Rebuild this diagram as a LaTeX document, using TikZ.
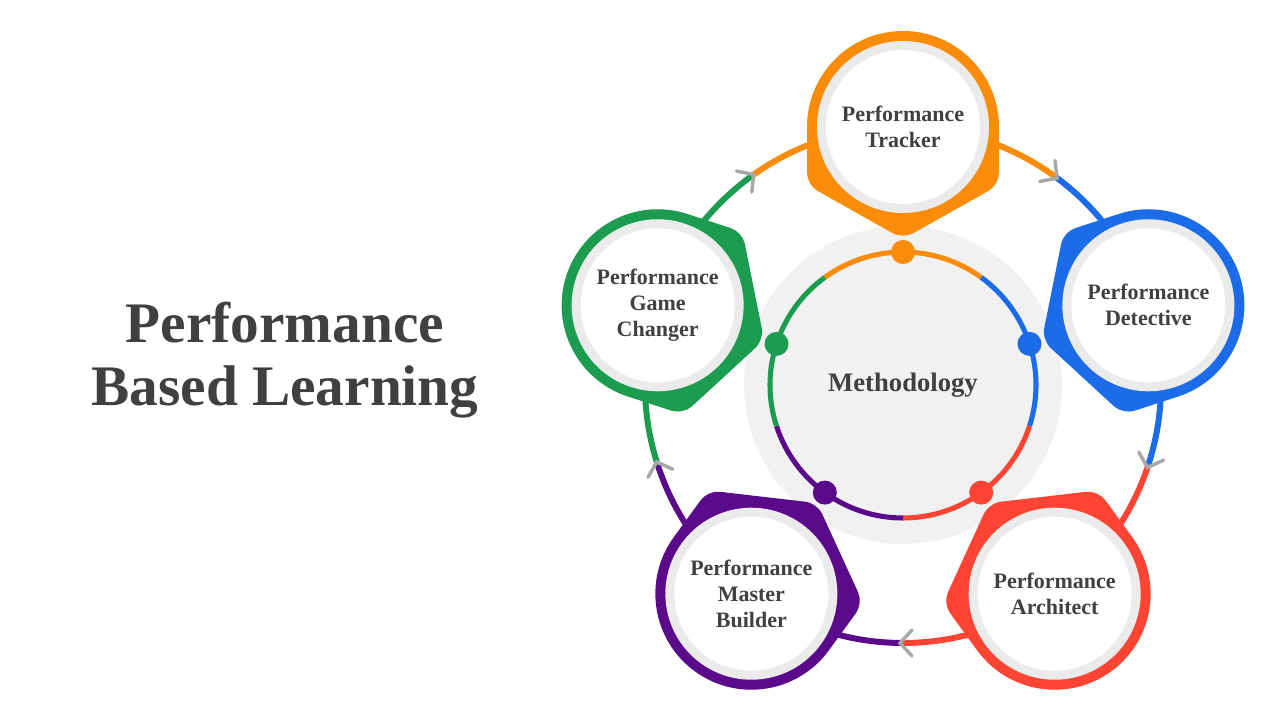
\documentclass[tikz,border=0pt]{standalone}
\usepackage{fontspec}
\usetikzlibrary{calc}
\setmainfont{Liberation Serif}
\definecolor{cO}{HTML}{FA8C0A}
\definecolor{cB}{HTML}{1C6BE8}
\definecolor{cR}{HTML}{FF4433}
\definecolor{cP}{HTML}{5A0A8A}
\definecolor{cG}{HTML}{1B9C50}
\definecolor{tx}{HTML}{404040}
\definecolor{bg}{HTML}{F1F1F1}
\definecolor{rg}{HTML}{EBEBEB}
\definecolor{chev}{HTML}{A8A8A8}
\tikzset{lbl/.style={align=center,font=\bfseries\fontsize{16.5}{19.5}\selectfont,text=tx},
 chevr/.style={draw=chev,line width=2.6pt,line cap=round,line join=miter}}
\begin{document}
\begin{tikzpicture}[x=0.75pt,y=0.75pt]
\useasboundingbox (0,0) rectangle (1280,720);
\coordinate (C) at (903,335);
\fill[bg] (C) circle (159);
% inner ring
\foreach \a/\c in {90/cO,18/cB,-54/cR,-126/cP,162/cG}{
  \draw[\c,line width=3.8pt] ($(C)+(\a+36:133)$) arc[start angle=\a+36,end angle=\a-36,radius=133];
  \fill[\c] ($(C)+(\a:133)$) circle (12);
}
% outer ring
\foreach \a/\c in {90/cO,18/cB,-54/cR,-126/cP,162/cG}{
  \draw[\c,line width=4.5pt] ($(C)+(\a+36:258)$) arc[start angle=\a+36,end angle=\a-36,radius=258];
}
% chevrons
\foreach \a in {126,54,-18,-90,-162}{
  \begin{scope}[shift={($(C)+(\a:258)$)},rotate=\a-90]
    \draw[chevr] (-9,13) -- (3,0) -- (-9,-13);
  \end{scope}
}
% pins
\foreach \a/\c/\n in {90/cO/t,18/cB/d,-54/cR/a,-126/cP/b,162/cG/g}{
  \begin{scope}[shift={($(C)+(\a:258)$)},rotate=\a-90]
    \fill[\c,rounded corners=9] (96,0) -- (96,-58) -- (0,-112) -- (-96,-58) [sharp corners]-- (-96,0) arc[start angle=180,end angle=0,radius=96] -- cycle;
    \fill[\c] (0,0) circle (95);
    \fill[rg] (0,0) circle (86);
    \fill[white] (0,0) circle (77);
  \end{scope}
  \coordinate (\n) at ($(C)+(\a:258)$);
}
\node[lbl] (nt) at (t) {Performance\\Tracker};
\node[lbl] (nd) at (d) {Performance\\Detective};
\node[lbl] (na) at (a) {Performance\\Architect};
\node[lbl] (nb) at (b) {Performance\\Master\\Builder};
\node[lbl] (ng) at (g) {Performance\\Game\\Changer};
\node[font=\bfseries\fontsize{20}{24}\selectfont,text=tx] (m) at (C) {Methodology};
\node[align=center,font=\bfseries\fontsize{43}{47}\selectfont,text=tx] (title) at (285,360) {Performance\\Based Learning};
\end{tikzpicture}
\end{document}
